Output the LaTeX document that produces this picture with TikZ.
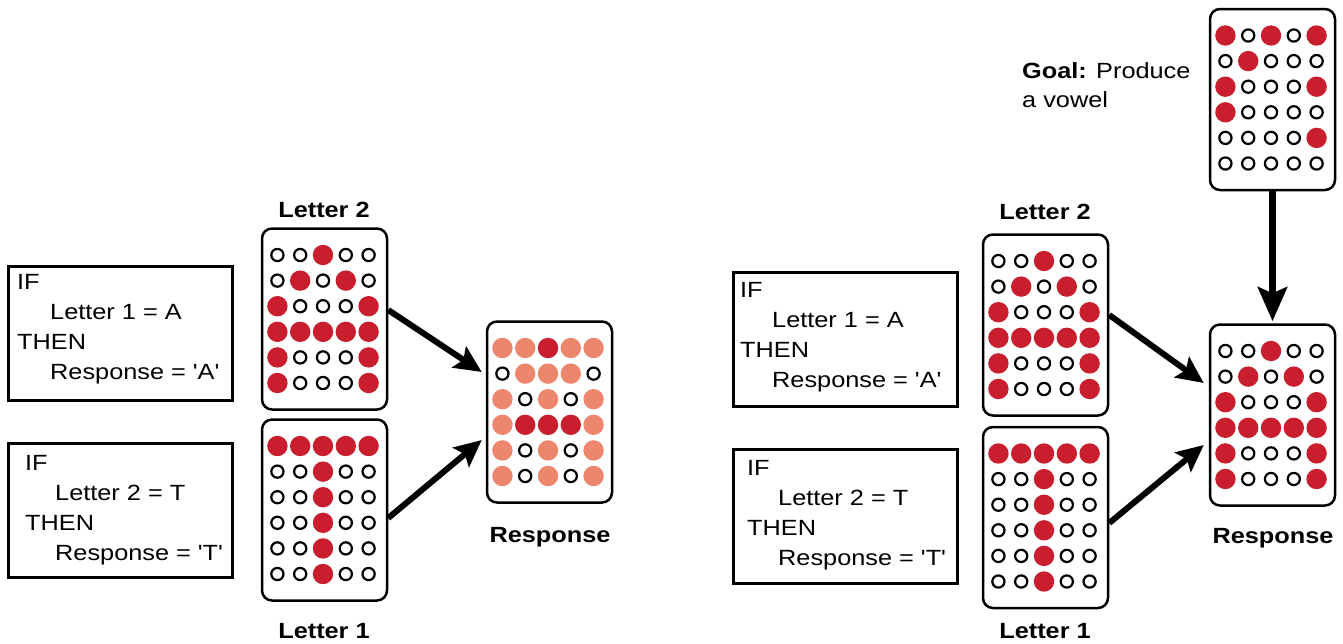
\documentclass[tikz,border=0pt]{standalone}
\usepackage{fontspec}
\setmainfont{Liberation Sans}[FakeStretch=1.15, Ligatures=TeXOff]
\usetikzlibrary{arrows.meta}
\definecolor{dotred}{RGB}{200,30,45}
\definecolor{dotsalmon}{RGB}{236,135,110}
\tikzset{
 gridbox/.style={draw, line width=2.5pt, rounded corners=10pt, minimum width=125pt, minimum height=181pt, inner sep=0pt},
 rulebox/.style={draw, line width=2.5pt, minimum width=224pt, minimum height=134pt, inner sep=0pt},
 txt/.style={font=\fontsize{22}{30}\selectfont, inner sep=0pt, anchor=base west},
 lbl/.style={font=\fontsize{22}{30}\selectfont\bfseries, inner sep=0pt, anchor=base},
 opendot/.style={draw=black, line width=2.2pt, fill=white},
 reddot/.style={fill=dotred},
 salmondot/.style={fill=dotsalmon},
 arr/.style={line width=6pt, -{Stealth[length=27pt,width=25pt,inset=5pt]}},
 bigarr/.style={line width=7pt, -{Stealth[length=34pt,width=29pt,inset=6pt]}},
}
\newcommand\dotgrid[2]{%
 \foreach \v [count=\i from 0] in {#2} {%
  \pgfmathtruncatemacro\dcol{mod(\i,5)}%
  \pgfmathtruncatemacro\drow{div(\i,5)}%
  \coordinate (p) at ([shift={({(\dcol-2)*22.8-1.5},{(\drow-2.5)*25.6})}]#1.center);
  \ifcase\v\relax
    \draw[opendot] (p) circle[radius=6.1pt];
  \or
    \fill[reddot] (p) circle[radius=10.2pt];
  \or
    \fill[salmondot] (p) circle[radius=10.2pt];
  \fi
 }}
\newcommand\ruletxt[8]{%
 \node[txt] (#1a) at (#2,#4) {#5};
 \node[txt] (#1b) at (#3,{#4+30}) {#6};
 \node[txt] (#1c) at (#2,{#4+60}) {#7};
 \node[txt] (#1d) at (#3,{#4+90}) {#8};
}
\begin{document}
\begin{tikzpicture}[x=1pt,y=-1pt]
\useasboundingbox (0,0) rectangle (1343,643);
% ---------- left panel ----------
\node[rulebox] (Ia1) at (120.5,333.5) {};
\node[rulebox] (Ia2) at (120.5,510.5) {};
\ruletxt{ta}{17}{50}{289}{IF}{Letter 1 = A}{THEN}{Response = 'A'}
\ruletxt{tb}{25}{55}{470}{IF}{Letter 2 = T}{THEN}{Response = 'T'}
\node[gridbox] (L2a) at (324.5,319) {};
\node[gridbox] (L1a) at (324.5,510) {};
\node[gridbox] (Ra) at (549.5,412) {};
\dotgrid{L2a}{0,0,1,0,0, 0,1,0,1,0, 1,0,0,0,1, 1,1,1,1,1, 1,0,0,0,1, 1,0,0,0,1}
\dotgrid{L1a}{1,1,1,1,1, 0,0,1,0,0, 0,0,1,0,0, 0,0,1,0,0, 0,0,1,0,0, 0,0,1,0,0}
\dotgrid{Ra}{2,2,1,2,2, 0,2,2,2,0, 2,0,2,0,2, 2,1,1,1,2, 2,0,2,0,2, 2,0,2,0,2}
\node[lbl] (la2) at (324,217) {Letter 2};
\node[lbl] (la1) at (324,638) {Letter 1};
\node[lbl] (lra) at (550,542) {Response};
\draw[arr] ([yshift=9pt]L2a.east) -- ([xshift=-4pt,yshift=40pt]Ra.west);
\draw[arr] ([yshift=-8pt]L1a.east) -- ([xshift=-4pt,yshift=-28pt]Ra.west);
% ---------- right panel ----------
\node[rulebox] (Ib1) at (845.5,339.5) {};
\node[rulebox] (Ib2) at (845.5,516.5) {};
\ruletxt{tc}{740}{772}{297}{IF}{Letter 1 = A}{THEN}{Response = 'A'}
\ruletxt{td}{747}{778}{475}{IF}{Letter 2 = T}{THEN}{Response = 'T'}
\node[gridbox] (L2b) at (1045.5,325) {};
\node[gridbox] (L1b) at (1045.5,517.5) {};
\node[gridbox] (G) at (1272.5,99.5) {};
\node[gridbox] (Rb) at (1272.5,415) {};
\dotgrid{L2b}{0,0,1,0,0, 0,1,0,1,0, 1,0,0,0,1, 1,1,1,1,1, 1,0,0,0,1, 1,0,0,0,1}
\dotgrid{L1b}{1,1,1,1,1, 0,0,1,0,0, 0,0,1,0,0, 0,0,1,0,0, 0,0,1,0,0, 0,0,1,0,0}
\dotgrid{G}{1,0,1,0,1, 0,1,0,0,0, 1,0,0,0,1, 1,0,0,0,0, 0,0,0,0,1, 0,0,0,0,0}
\dotgrid{Rb}{0,0,1,0,0, 0,1,0,1,0, 1,0,0,0,1, 1,1,1,1,1, 1,0,0,0,1, 1,0,0,0,1}
\node[lbl] (lb2) at (1045,219) {Letter 2};
\node[lbl] (lb1) at (1045,638) {Letter 1};
\node[lbl] (lrb) at (1273,543) {Response};
\node[txt] (g1) at (1022,78) {\textbf{Goal:} Produce};
\node[txt] (g2) at (1022,107) {a vowel};
\draw[arr] ([yshift=10pt]L2b.east) -- ([xshift=-5pt,yshift=32pt]Rb.west);
\draw[arr] ([yshift=-5.5pt]L1b.east) -- ([xshift=-5pt,yshift=-30pt]Rb.west);
\draw[bigarr] (G.south) -- ([yshift=2pt]Rb.north);
\end{tikzpicture}
\end{document}
